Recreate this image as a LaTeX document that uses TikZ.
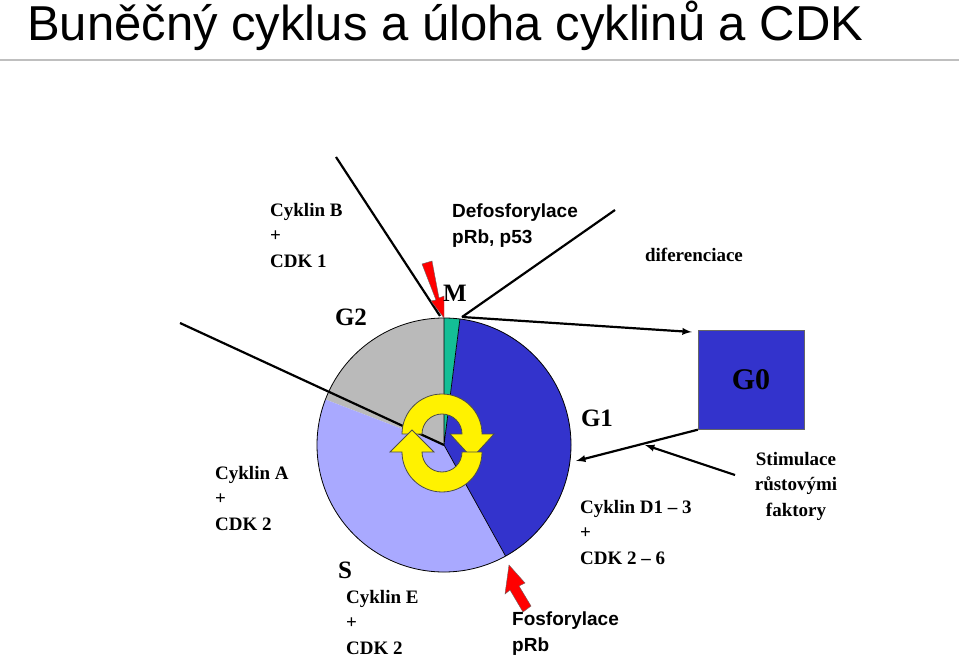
\documentclass[tikz,border=0pt]{standalone}
\usepackage{fontspec}
\setmainfont{Liberation Serif}
\newfontfamily\arial{Liberation Sans}
\begin{document}
\begin{tikzpicture}[x=1pt,y=-1pt,
  lbl/.style={font=\fontsize{19}{25.5}\selectfont\bfseries, align=left, inner sep=0pt},
  albl/.style={font=\arial\fontsize{19}{25.5}\selectfont\bfseries, align=left, inner sep=0pt},
  phase/.style={font=\fontsize{25}{28}\selectfont\bfseries, inner sep=0pt},
  ln/.style={line width=2.2pt},
  arr/.style={line width=2.2pt,-latex},
  redarr/.style={draw=black!60, fill=red, line width=0.4pt},
  yel/.style={fill=yellow, draw=black!70, line width=0.8pt}]
\useasboundingbox (0,0) rectangle (959,660);
\node[font=\arial\fontsize{49}{55}\selectfont, anchor=base west, inner sep=0pt] (title) at (27,41) {Buněčný cyklus a úloha cyklinů a CDK};
\draw[black!25, line width=1.2pt] (0,60) -- (959,60);
% pie
\coordinate (c) at (444,445);
\fill[black!27] (c) -- ++(201:127) arc(201:270:127) -- cycle;
\fill[blue!22!white!85!blue] (c) -- ++(61:127) arc(61:201:127) -- cycle;
\fill[fill={rgb,255:red,51;green,51;blue,204}] (c) -- ++(-82.8:127) arc(-82.8:61:127) -- cycle;
\fill[fill={rgb,255:red,20;green,190;blue,150}] (c) -- ++(-90:127) arc(-90:-82.8:127) -- cycle;
\draw[line width=0.8pt] (c) circle (127);
\draw[line width=0.7pt] (c) -- ++(-90:127) (c) -- ++(-82.8:127) (c) -- ++(61:127);
\coordinate (top) at (444,318);
\coordinate (mtop) at (462,317);
\coordinate (g1e) at (576,461);
% connectors
\coordinate (l1) at (336,157);
\coordinate (l2) at (180,323);
\coordinate (l3) at (615,210);
\coordinate (l4) at (735,475);
\coordinate (l4e) at (645,445);
\draw[ln] (l1) -- (440,316);
\draw[ln] (l2) -- (c);
\draw[ln] (l3) -- (mtop);
\node[draw=black!60, fill={rgb,255:red,51;green,51;blue,204}, minimum width=106pt, minimum height=99pt, inner sep=0pt, font=\fontsize{30}{32}\selectfont\bfseries] (g0) at (751,380) {G0};
\draw[arr] (mtop) -- ([xshift=-6pt,yshift=-1pt]g0.west |- 0,331);
\draw[arr] (g0.south west) -- (g1e);
\draw[arr] (l4) -- (l4e);
% red arrows
\draw[redarr] (422,264) -- (432,261) -- (439,298) -- (444,296) -- (444,318) -- (431,301) -- (436,300) -- cycle;
\draw[redarr] (531,606) -- (523,612) -- (510,590) -- (505,594) -- (509,565) -- (525,583) -- (519,586) -- cycle;
% yellow arrows
\draw[yel] (402,434) arc(180:360:40) -- (494,434) -- (472,458) -- (450,434) -- (462,434) arc(0:-180:20) -- cycle;
\draw[yel] (482,452) arc(0:180:40) -- (390,452) -- (412,430) -- (434,452) -- (422,452) arc(180:0:20) -- cycle;
% labels
\node[lbl, anchor=north west] (cb) at (270,203) {Cyklin B\\+\\CDK 1};
\node[phase] (g2) at (351,317) {G2};
\node[phase] (m) at (455,293) {M};
\node[phase] (g1) at (597,418) {G1};
\node[phase] (s) at (345,570) {S};
\node[albl, anchor=north west] (def) at (452,204) {Defosforylace\\pRb, p53};
\node[lbl] (dif) at (694,255) {diferenciace};
\node[lbl, anchor=north west] (ca) at (215,466) {Cyklin A\\+\\CDK 2};
\node[lbl, anchor=north west] (ce) at (346,590) {Cyklin E\\+\\CDK 2};
\node[lbl, anchor=north west] (cd) at (580,500) {Cyklin D1 -- 3\\+\\CDK 2 -- 6};
\node[albl, anchor=north west] (fos) at (512,612) {Fosforylace\\pRb};
\node[lbl, align=center, anchor=north] (stim) at (796,452) {Stimulace\\růstovými\\faktory};
\end{tikzpicture}
\end{document}
